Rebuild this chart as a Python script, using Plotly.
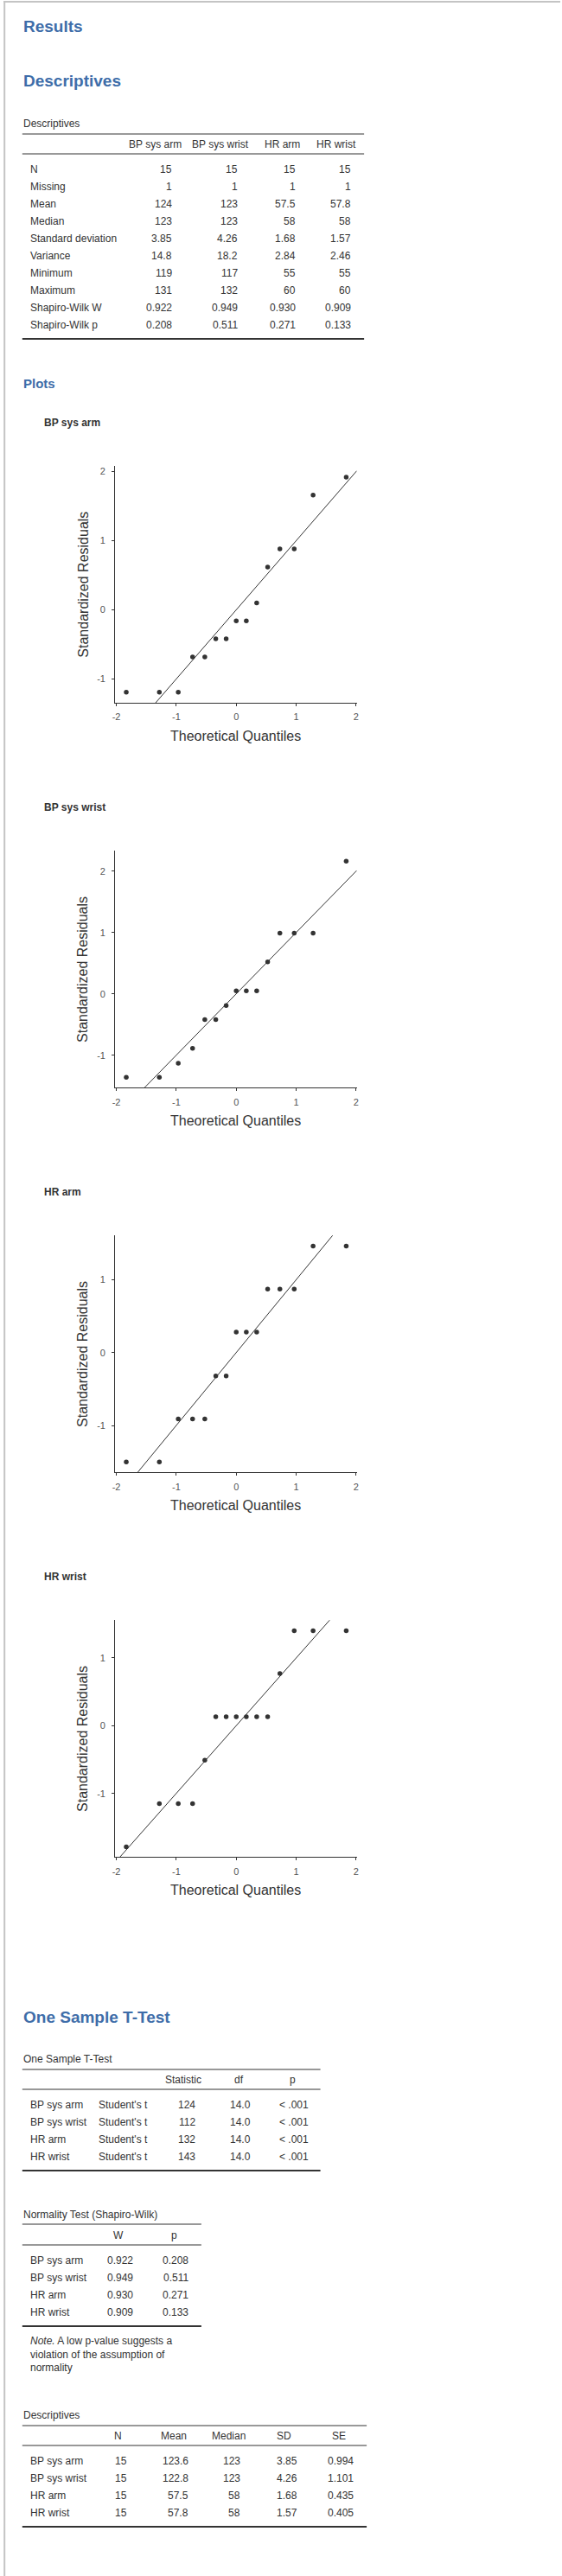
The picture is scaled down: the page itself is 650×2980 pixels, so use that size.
import plotly.graph_objects as go

W, H = 650, 2980
FONT = "Liberation Sans, Arial, sans-serif"
BLUE = "#3E6DA9"
TXT = "#333333"

# ---------------- data ----------------
variables = ["BP sys arm", "BP sys wrist", "HR arm", "HR wrist"]

desc_rows = ["N", "Missing", "Mean", "Median", "Standard deviation", "Variance",
             "Minimum", "Maximum", "Shapiro-Wilk W", "Shapiro-Wilk p"]
desc_bp_arm = ["15", "1", "124", "123", "3.85", "14.8", "119", "131", "0.922", "0.208"]
desc_bp_wrist = ["15", "1", "123", "123", "4.26", "18.2", "117", "132", "0.949", "0.511"]
desc_hr_arm = ["15", "1", "57.5", "58", "1.68", "2.84", "55", "60", "0.930", "0.271"]
desc_hr_wrist = ["15", "1", "57.8", "58", "1.57", "2.46", "55", "60", "0.909", "0.133"]

ttest_headers = ["Statistic", "df", "p"]
ttest_type = ["Student's t", "Student's t", "Student's t", "Student's t"]
ttest_stat = ["124", "112", "132", "143"]
ttest_df = ["14.0", "14.0", "14.0", "14.0"]
ttest_p = ["< .001", "< .001", "< .001", "< .001"]

sw_headers = ["W", "p"]
sw_W = ["0.922", "0.949", "0.930", "0.909"]
sw_p = ["0.208", "0.511", "0.271", "0.133"]

desc2_headers = ["N", "Mean", "Median", "SD", "SE"]
desc2_N = ["15", "15", "15", "15"]
desc2_mean = ["123.6", "122.8", "57.5", "57.8"]
desc2_median = ["123", "123", "58", "58"]
desc2_sd = ["3.85", "4.26", "1.68", "1.57"]
desc2_se = ["0.994", "1.101", "0.435", "0.405"]

theoretical_quantiles = [-1.834, -1.282, -0.967, -0.728, -0.524, -0.341, -0.168, 0.0,
                         0.168, 0.341, 0.524, 0.728, 0.967, 1.282, 1.834]
resid_bp_arm = [-1.19, -1.19, -1.19, -0.68, -0.68, -0.42, -0.42, -0.16,
                -0.16, 0.10, 0.62, 0.88, 0.88, 1.66, 1.92]
resid_bp_wrist = [-1.36, -1.36, -1.13, -0.89, -0.42, -0.42, -0.19, 0.05,
                  0.05, 0.05, 0.52, 0.99, 0.99, 0.99, 2.16]
resid_hr_arm = [-1.50, -1.50, -0.91, -0.91, -0.91, -0.32, -0.32, 0.28,
                0.28, 0.28, 0.87, 0.87, 0.87, 1.46, 1.46]
resid_hr_wrist = [-1.79, -1.15, -1.15, -1.15, -0.51, 0.13, 0.13, 0.13,
                  0.13, 0.13, 0.13, 0.77, 1.40, 1.40, 1.40]
ref_slope, ref_intercept = 1.0, 0.0

x_ticks = [-2, -1, 0, 1, 2]
x_ticktext = ["-2", "-1", "0", "1", "2"]

# ---------------- helpers ----------------
annotations = []
shapes = []


def px(x):
    return x / W


def py(y):
    return 1 - y / H


def text(x, y, s, size=12, color=TXT, xanchor="left", bold=False, align="left"):
    annotations.append(dict(
        x=px(x), y=py(y), xref="paper", yref="paper",
        text=f"<b>{s}</b>" if bold else s, showarrow=False,
        xanchor=xanchor, yanchor="middle", align=align, borderpad=0,
        font=dict(family=FONT, size=size, color=color)))


def hline(x0, x1, y, width=1, color=TXT):
    shapes.append(dict(type="line", xref="paper", yref="paper",
                       x0=px(x0), x1=px(x1), y0=py(y), y1=py(y),
                       line=dict(color=color, width=width)))


def table(title, left, right, y_title, y_top, y_head, y_headline, y_row0, y_bottom,
          headers, label_cols, value_cols, row_step=20):
    text(left, y_title, title)
    hline(left, right, y_top, 1)
    for h, cx in headers:
        text(cx, y_head, h, xanchor="center")
    hline(left, right, y_headline, 1)
    for vals, lx in label_cols:
        for i, v in enumerate(vals):
            text(lx, y_row0 + i * row_step, v)
    for vals, rx in value_cols:
        for i, v in enumerate(vals):
            text(rx, y_row0 + i * row_step, v, xanchor="right")
    hline(left, right, y_bottom, 2.2)


# page frame
shapes.append(dict(type="line", xref="paper", yref="paper", x0=px(0), x1=px(W),
                   y0=py(2), y1=py(2), line=dict(color="#c4c4c4", width=2)))
shapes.append(dict(type="line", xref="paper", yref="paper", x0=px(1.2), x1=px(1.2),
                   y0=py(2), y1=py(H), line=dict(color="#c4c4c4", width=2)))

# headings
text(22, 31, "Results", size=19, color=BLUE, bold=True)
text(22, 93, "Descriptives", size=19, color=BLUE, bold=True)
text(22, 444, "Plots", size=15, color=BLUE, bold=True)
text(22, 2333, "One Sample T-Test", size=19, color=BLUE, bold=True)

# Descriptives table
table("Descriptives", 22, 421, 143, 155, 167, 178, 196, 392,
      headers=[(variables[0], 177), (variables[1], 253), (variables[2], 325), (variables[3], 389)],
      label_cols=[(desc_rows, 30)],
      value_cols=[(desc_bp_arm, 198), (desc_bp_wrist, 275), (desc_hr_arm, 342.5), (desc_hr_wrist, 407)])

# One sample t-test table
table("One Sample T-Test", 22, 370, 2382, 2394, 2406, 2417, 2435, 2511,
      headers=[(ttest_headers[0], 210), (ttest_headers[1], 275), (ttest_headers[2], 338)],
      label_cols=[(variables, 30), (ttest_type, 110)],
      value_cols=[(ttest_stat, 225), (ttest_df, 290), (ttest_p, 357)])

# Normality table
table("Normality Test (Shapiro-Wilk)", 22, 231, 2562, 2573, 2586, 2597, 2615, 2691,
      headers=[(sw_headers[0], 134), (sw_headers[1], 199)],
      label_cols=[(variables, 30)],
      value_cols=[(sw_W, 152.5), (sw_p, 216.5)])
text(30, 2723, "<i>Note.</i> A low p-value suggests a<br>violation of the assumption of<br>normality")

# Descriptives 2 table
table("Descriptives", 22, 424, 2794, 2806, 2818, 2829, 2847, 2923,
      headers=[(desc2_headers[0], 134), (desc2_headers[1], 199), (desc2_headers[2], 263),
               (desc2_headers[3], 327.5), (desc2_headers[4], 391.5)],
      label_cols=[(variables, 30)],
      value_cols=[(desc2_N, 145), (desc2_mean, 216.5), (desc2_median, 278),
                  (desc2_sd, 344), (desc2_se, 410)])

# ---------------- Q-Q plots ----------------
fig = go.Figure()
x_range = [-2.019, 2.011]
panel_left, panel_right = 130.4, 412.5
plots = [
    # title, residuals, panel top px, panel bottom px, y range, y ticks, title y, x-title y
    ("BP sys arm", resid_bp_arm, 539, 813, [-1.344, 2.081], [-1, 0, 1, 2], 489, 851.5),
    ("BP sys wrist", resid_bp_wrist, 984.3, 1258.3, [-1.53, 2.33], [-1, 0, 1, 2], 934.3, 1296.5),
    ("HR arm", resid_hr_arm, 1429.3, 1703.3, [-1.644, 1.606], [-1, 0, 1], 1379.3, 1741.7),
    ("HR wrist", resid_hr_wrist, 1874.3, 2148.3, [-1.94, 1.557], [-1, 0, 1], 1824, 2186.7),
]

layout_axes = {}
for i, (name, resid, top, bottom, yr, yt, ty, xty) in enumerate(plots, start=1):
    xa = "x" if i == 1 else f"x{i}"
    ya = "y" if i == 1 else f"y{i}"
    fig.add_trace(go.Scatter(x=x_range, y=[ref_slope * v + ref_intercept for v in x_range],
                             mode="lines", line=dict(color="#333333", width=1),
                             xaxis=xa, yaxis=ya, hoverinfo="skip", name="reference"))
    fig.add_trace(go.Scatter(x=theoretical_quantiles, y=resid, mode="markers",
                             marker=dict(color="#333333", size=5.5),
                             xaxis=xa, yaxis=ya, name=name))
    common = dict(showline=True, linecolor="#333333", linewidth=1, ticks="outside",
                  ticklen=3, tickwidth=1, tickcolor="#333333", showgrid=False,
                  zeroline=False, fixedrange=True,
                  tickfont=dict(family=FONT, size=11, color="#555555"))
    layout_axes["xaxis" if i == 1 else f"xaxis{i}"] = dict(
        domain=[px(panel_left), px(panel_right)], range=x_range, anchor=ya,
        tickvals=x_ticks, ticktext=x_ticktext, ticklabelstandoff=3, **common)
    layout_axes["yaxis" if i == 1 else f"yaxis{i}"] = dict(
        domain=[py(bottom), py(top)], range=yr, anchor=xa,
        tickvals=yt, ticktext=[str(v) for v in yt], ticklabelstandoff=5, **common)
    text(46, ty, name, size=12, color=TXT, bold=True)
    text((panel_left + panel_right) / 2, xty, "Theoretical Quantiles", size=16,
         color=TXT, xanchor="center")
    annotations.append(dict(x=px(92.5), y=py((top + bottom) / 2), xref="paper", yref="paper",
                            text="Standardized Residuals", showarrow=False, textangle=-90,
                            xanchor="center", yanchor="middle", borderpad=0,
                            font=dict(family=FONT, size=16, color=TXT)))

fig.update_layout(
    width=W, height=H, margin=dict(l=0, r=0, t=0, b=0, pad=0),
    paper_bgcolor="white", plot_bgcolor="white", showlegend=False,
    annotations=annotations, shapes=shapes, **layout_axes)

fig.write_html("out.html")
